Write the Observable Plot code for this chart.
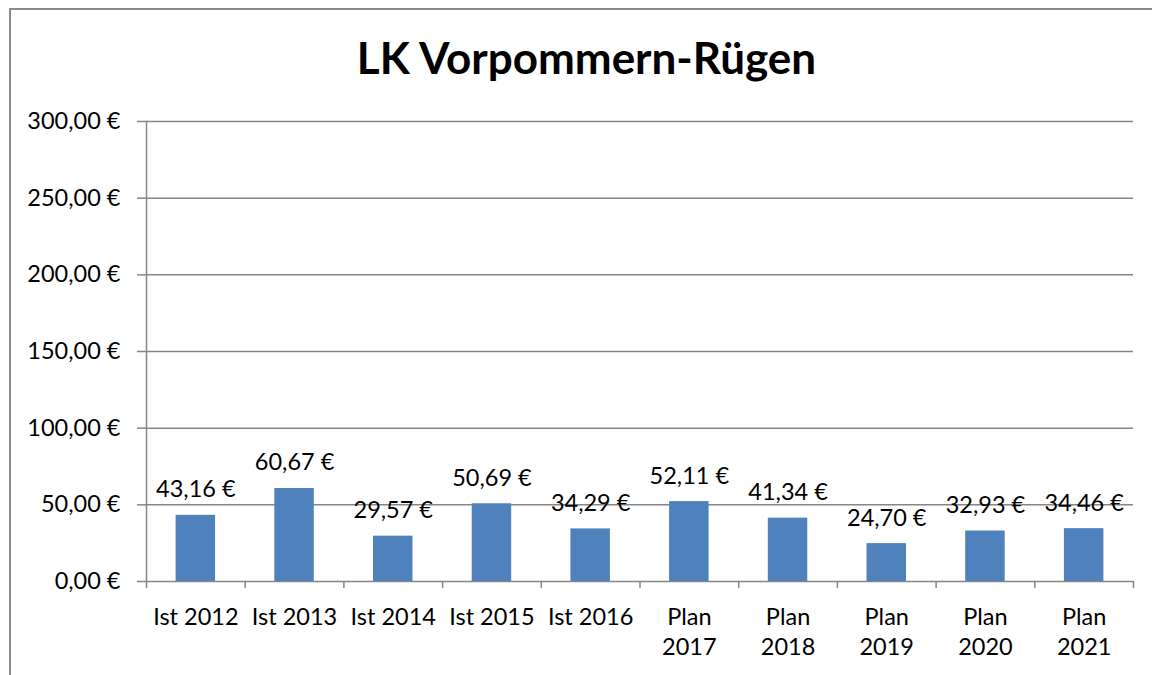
<!DOCTYPE html>
<html>
<head>
<meta charset="utf-8">
<script src="https://cdn.jsdelivr.net/npm/d3@7"></script>
<script src="https://cdn.jsdelivr.net/npm/@observablehq/plot@0.6"></script>
<style>
  html, body { margin: 0; padding: 0; background: #fff; }
  #wrap { position: relative; width: 1152px; height: 675px; overflow: hidden; font-family: Lato, "Open Sans", sans-serif; }
  #frame { position: absolute; left: 9px; top: 8px; width: 1200px; height: 700px; border-left: 2px solid #8c8c8c; border-top: 2px solid #8c8c8c; }
  #title { position: absolute; left: 0; width: 1173px; top: 30px; text-align: center; font-weight: bold; font-size: 44px; color: #000; line-height: 54px; }
  #chart { position: absolute; left: 0; top: 0; }
</style>
</head>
<body>
<div id="wrap">
  <div id="frame"></div>
  <div id="chart"></div>
  <div id="title">LK Vorpommern-Rügen</div>
</div>
<script>
const categories = ["Ist 2012", "Ist 2013", "Ist 2014", "Ist 2015", "Ist 2016", "Plan\n2017", "Plan\n2018", "Plan\n2019", "Plan\n2020", "Plan\n2021"];
const values = [43.16, 60.67, 29.57, 50.69, 34.29, 52.11, 41.34, 24.70, 32.93, 34.46];
const yTicks = [0, 50, 100, 150, 200, 250, 300];

const data = categories.map((c, i) => ({cat: c, value: values[i]}));
const fmt = v => v.toFixed(2).replace(".", ",") + " €";

const W = 1152, H = 675, mL = 146, mR = 19, mT = 121, mB = 94;
const step = (W - mL - mR) / categories.length;
const gridColor = "#868686";
const fs = 23.5;

const plot = Plot.plot({
  width: W, height: H,
  marginLeft: mL, marginRight: mR, marginTop: mT, marginBottom: mB,
  style: {fontFamily: "Lato, 'Open Sans', sans-serif", fontSize: fs + "px", color: "#000", background: "transparent"},
  x: {type: "band", domain: categories, paddingInner: 0.6, paddingOuter: 0.3, round: false},
  y: {domain: [0, 300]},
  marks: [
    Plot.ruleY(yTicks, {y: d => d, stroke: gridColor, strokeWidth: 1.5}),
    Plot.frame({anchor: "left", stroke: gridColor, strokeWidth: 1.5}),
    Plot.axisY({ticks: yTicks, tickFormat: fmt, tickSize: 9, tickPadding: 17, stroke: gridColor, strokeWidth: 1.5, label: null, fontSize: fs, fill: "#000"}),
    Plot.axisX({tickSize: 0, tickPadding: 22, label: null, lineHeight: 1.28, fontSize: fs, fill: "#000"}),
    Plot.ruleX(categories, {x: d => d, dx: -step / 2, y1: 0, y2: -4.6, stroke: gridColor, strokeWidth: 1.5}),
    Plot.ruleX(categories.slice(-1), {x: d => d, dx: step / 2, y1: 0, y2: -4.6, stroke: gridColor, strokeWidth: 1.5}),
    Plot.barY(data, {x: "cat", y: "value", fill: "#4F81BD"}),
    Plot.text(data, {x: "cat", y: "value", text: d => fmt(d.value), lineAnchor: "bottom", dy: -18, fontSize: fs, fill: "#000"})
  ]
});
document.getElementById("chart").appendChild(plot);
</script>
</body>
</html>
